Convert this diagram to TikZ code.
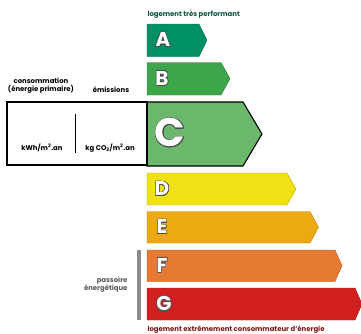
\documentclass[tikz,border=0pt]{standalone}
\usepackage{fontspec}
\setmainfont{Poppins}
\usepackage{contour}
\contourlength{0.6pt}
\definecolor{clsA}{HTML}{009064}
\definecolor{clsB}{HTML}{3DA54A}
\definecolor{clsC}{HTML}{6BB86C}
\definecolor{clsD}{HTML}{F0E114}
\definecolor{clsE}{HTML}{ECAA12}
\definecolor{clsF}{HTML}{E77A33}
\definecolor{clsG}{HTML}{D21F20}
\definecolor{topgreen}{HTML}{0B5535}
\definecolor{botred}{HTML}{7A1515}
\tikzset{
  small/.style={font=\fontsize{6.9}{7.6}\selectfont\bfseries},
  letter/.style={anchor=center,font=\fontsize{20}{20}\selectfont\bfseries},
}
\newcommand{\classletter}[1]{\contour{black!70}{\color{white}#1}}
\begin{document}
\begin{tikzpicture}[x=1pt,y=-1pt]
        \useasboundingbox (0,0) rectangle (361,333);
        \node [small,anchor=west,topgreen] (top) at (144,15) {logement très performant};
        \draw [clsA!70!black,fill=clsA] (147,24)--(199,24)--(207,40.2)--(199,56.5)--(147,56.5)--cycle;
        \node [letter] (A) at (163,40.2) {\classletter{A}};
        \draw [clsB!70!black,fill=clsB] (147,62.5)--(221,62.5)--(230,78.7)--(221,95)--(147,95)--cycle;
        \node [letter] (B) at (162,78.7) {\classletter{B}};
        \draw [line width=1.1pt,fill=clsC] (147,102)--(243,102)--(262,134)--(243,166)--(147,166)--cycle;
        \node [letter,font=\fontsize{40}{40}\selectfont\bfseries] (C) at (170,133) {\classletter{C}};
        \draw [clsD!75!black,fill=clsD] (147,173)--(287,173)--(296,189)--(287,205)--(147,205)--cycle;
        \node [letter] (D) at (162,189) {\classletter{D}};
        \draw [clsE!75!black,fill=clsE] (147,211.5)--(310,211.5)--(318.5,227.2)--(310,243)--(147,243)--cycle;
        \node [letter] (E) at (162,227.2) {\classletter{E}};
        \draw [clsF!75!black,fill=clsF] (147,250)--(335,250)--(342,265.7)--(335,281.5)--(147,281.5)--cycle;
        \node [letter] (F) at (162,265.7) {\classletter{F}};
        \draw [clsG!75!black,fill=clsG] (147,288)--(355,288)--(362,304)--(355,320)--(147,320)--cycle;
        \node [letter] (G) at (164,304) {\classletter{G}};
        \node [small,anchor=west,botred] (bottom) at (144,330) {logement extrêmement consommateur d'énergie};
        % tableau des valeurs
        \draw [line width=1.1pt] (7,102) rectangle (147,165);
        \draw [line width=0.9pt] (75,114)--(75,153);
        \node [small,align=center] (conso) at (41,85.5) {consommation\\(énergie primaire)};
        \node [small] (emis) at (111,90) {émissions};
        \node [small] (kwh) at (42,148) {kWh/m\textsuperscript{2}.an};
        \node [small] (kgco) at (110,148) {kg CO\textsubscript{2}/m\textsuperscript{2}.an};
        % passoire
        \fill [black!45] (136.5,250) rectangle (140.5,320);
        \node [small,anchor=east,align=right,black!65] (passoire) at (131,284.5) {passoire\\énergétique};
    \end{tikzpicture}
\end{document}
